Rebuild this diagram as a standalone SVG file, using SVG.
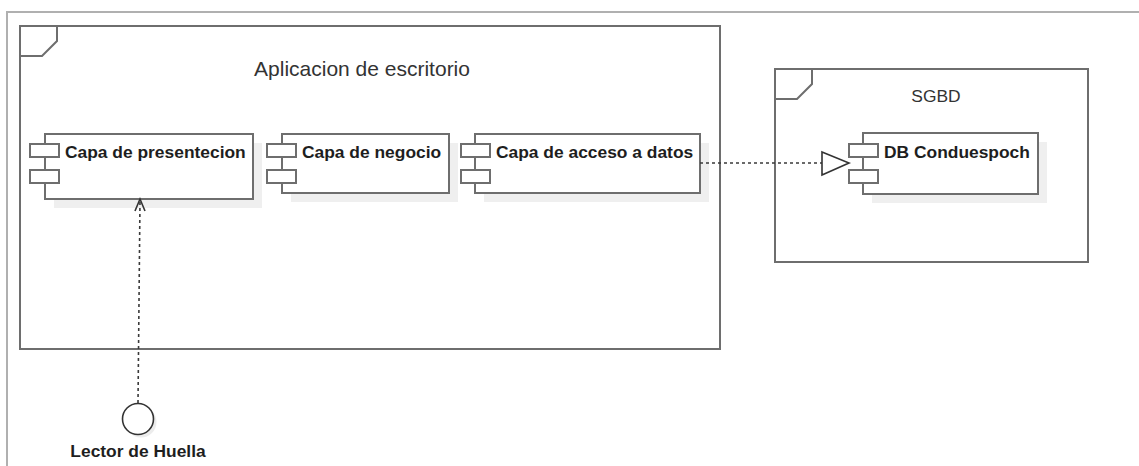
<svg xmlns="http://www.w3.org/2000/svg" width="1139" height="466" viewBox="0 0 1139 466">
<defs>
<style>
.frame{fill:#fff;stroke:#6e6e6e;stroke-width:2}
.comp{fill:#fff;stroke:#6e6e6e;stroke-width:2}
.shadow{fill:#efefef;stroke:none}
.lbl{font-family:"Liberation Sans",Arial,sans-serif;font-weight:bold;font-size:17.4px;fill:#1e1e1e}
.title{font-family:"Liberation Sans",Arial,sans-serif;font-size:21px;fill:#333}
.title2{font-family:"Liberation Sans",Arial,sans-serif;font-size:17.4px;fill:#333}
.dash{fill:none;stroke:#3a3a3a;stroke-width:1.6;stroke-dasharray:3 3}
</style>
</defs>
<rect x="7" y="12" width="1200" height="500" fill="#fff" stroke="#b0b0b0" stroke-width="2"/>

<g id="app-frame">
<rect class="frame" x="20" y="26" width="700" height="323"/>
<path d="M20,56 L42,56 L57,41 L57,26" fill="none" stroke="#6e6e6e" stroke-width="2"/>
<text class="title" x="362" y="76" text-anchor="middle">Aplicacion de escritorio</text>
</g>

<g id="sgbd-frame">
<rect class="frame" x="775" y="69" width="313" height="193"/>
<path d="M775,99 L797,99 L812,84 L812,69" fill="none" stroke="#6e6e6e" stroke-width="2"/>
<text class="title2" x="936" y="102" text-anchor="middle">SGBD</text>
</g>

<g id="capa-presentecion">
<rect class="shadow" x="54" y="143" width="208" height="65"/>
<rect class="comp" x="45" y="134" width="208" height="65"/>
<rect class="comp" x="30" y="144" width="29" height="13"/>
<rect class="comp" x="30" y="170" width="29" height="13"/>
<text class="lbl" x="65" y="158">Capa de presentecion</text>
</g>

<g id="capa-negocio">
<rect class="shadow" x="291" y="143" width="167" height="59"/>
<rect class="comp" x="282" y="134" width="167" height="59"/>
<rect class="comp" x="267" y="144" width="29" height="13"/>
<rect class="comp" x="267" y="170" width="29" height="13"/>
<text class="lbl" x="302" y="158">Capa de negocio</text>
</g>

<g id="capa-acceso">
<rect class="shadow" x="484" y="143" width="225" height="59"/>
<rect class="comp" x="475" y="134" width="225" height="59"/>
<rect class="comp" x="461" y="144" width="29" height="13"/>
<rect class="comp" x="461" y="170" width="29" height="13"/>
<text class="lbl" x="496" y="158">Capa de acceso a datos</text>
</g>

<g id="db-conduespoch">
<rect class="shadow" x="872" y="142" width="175" height="61"/>
<rect class="comp" x="863" y="133" width="175" height="61"/>
<rect class="comp" x="849" y="144" width="29" height="13"/>
<rect class="comp" x="849" y="170" width="29" height="13"/>
<text class="lbl" x="884" y="158">DB Conduespoch</text>
</g>

<g id="lector-huella">
<circle cx="141" cy="422" r="15.5" fill="#ececec"/>
<circle cx="138" cy="419" r="15.5" fill="#fff" stroke="#333" stroke-width="1.6"/>
<text class="lbl" x="138" y="457" text-anchor="middle">Lector de Huella</text>
</g>

<g id="connectors">
<line class="dash" x1="700" y1="163" x2="822" y2="163"/>
<polygon points="822,152 849,163 822,175" fill="#fff" stroke="#333" stroke-width="1.6"/>
<line class="dash" x1="138" y1="403" x2="140" y2="200"/>
<polyline points="135,211 140,199 145,211" fill="none" stroke="#333" stroke-width="1.6"/>
</g>
</svg>
